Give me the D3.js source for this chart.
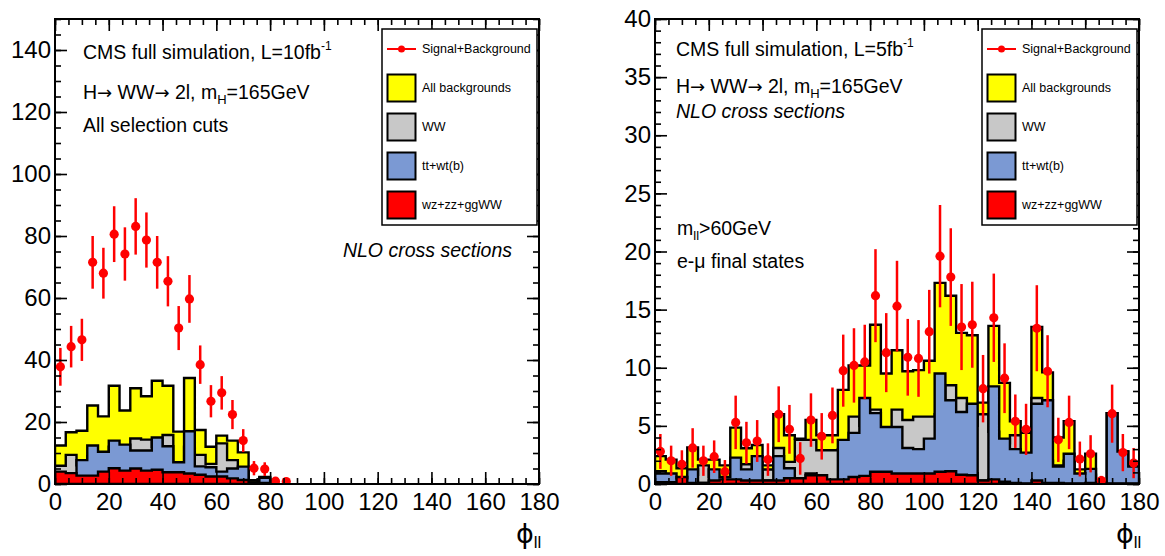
<!DOCTYPE html>
<html>
<head>
<meta charset="utf-8">
<script src="https://cdn.jsdelivr.net/npm/d3@7"></script>
<style>
body { margin: 0; background: #fff; }
svg { display: block; font-family: "Liberation Sans", Arial, Helvetica, sans-serif; }
</style>
</head>
<body>
<svg id="chart" width="1165" height="556"></svg>
<script>
// phi_ll histograms, 45 bins of 4 degrees
const binEdges = d3.range(0, 181, 4)

// left panel: L=10fb-1, all selection cuts
const leftTotal = [12.4,16.7,17.2,25.3,21.8,31.7,23.7,30.9,28.3,33.3,31.7,16.9,34.2,17.4,12.0,15.6,14.0,10.2,1.2,2.3]
const leftWW    = [5.9,9.4,6.0,9.0,8.0,12.0,8.0,14.7,14.3,12.0,15.8,5.0,12.0,9.4,6.5,13.1,7.7,5.0,0.5,1.0]
const leftTop   = [3.5,3.0,7.7,12.4,10.4,14.0,12.7,10.8,10.8,15.0,12.2,7.0,17.0,5.7,5.4,4.0,5.0,5.6,0.5,2.0]
const leftOther = [4.0,3.5,2.7,2.7,4.0,5.1,4.3,5.0,4.3,4.6,3.8,3.8,3.4,3.0,2.4,2.4,1.8,1.3,0.2,0.3]
const leftSig    = [37.8,44.3,46.5,71.5,68.0,80.6,74.2,83.1,78.7,71.5,65.4,50.3,59.7,38.5,26.7,29.4,22.4,14.0,5.1,4.8,0.9,0.8]
const leftSigErr = [6.1,6.7,6.8,8.5,8.2,9.0,8.6,9.1,8.9,8.5,8.1,7.1,7.7,6.2,5.2,5.4,4.7,3.7,2.3,2.2,0,0]

// right panel: L=5fb-1, m_ll>60GeV, e-mu
const rightTotal = [2.4,2.1,1.35,3.15,2.1,2.1,1.6,4.85,3.07,3.35,1.6,6.0,4.2,3.9,5.5,4.2,4.2,8.1,10.2,10.2,13.7,9.5,11.5,9.7,9.8,10.6,17.3,16.2,13.0,12.8,7.0,13.6,8.7,5.4,4.4,13.5,9.6,4.0,5.4,1.26,2.6,0.15,6.1,2.8,1.5]
const rightWW    = [1.1,0.6,0.3,0.8,1.6,0.6,0.5,1.5,1.7,0.8,1.25,3.1,1.9,3.8,3.8,2.9,2.9,3.0,5.8,5.0,6.4,4.0,6.4,5.5,5.8,5.8,6.0,8.5,7.4,5.0,6.0,4.5,3.5,4.2,1.5,7.4,2.0,1.6,2.0,0.2,0.8,0,0,0,0]
const rightTop   = [0.9,0.9,0.5,1.26,0.1,1.26,0.6,2.27,1.26,2.4,0.3,2.4,1.35,0.3,0.9,0.2,0.2,3.8,4.4,7.4,6.1,4.9,4.9,3.1,3.0,3.9,9.5,7.2,6.2,6.9,0.3,8.4,3.9,3.0,2.7,6.9,7.2,1.5,2.6,0.9,1.3,0.05,6.1,2.8,1.5]
const rightOther = [0.15,0.15,0.6,0.1,0.1,0.3,0.4,0.4,0.3,0.3,0.3,0.3,0.5,0.5,0.75,0.75,0.4,0.4,0.6,0.7,1.06,1.06,0.9,0.9,0.9,0.9,1.06,1.1,0.8,0.75,0.3,0.4,0.2,0.1,0.05,0.3,0.1,0.1,0.05,0.05,0.1,0.1,0.05,0.05,0.05]
const rightSig    = [2.8,2.0,1.7,3.1,2.0,2.35,1.06,5.3,3.55,3.7,2.1,6.0,4.7,2.2,5.5,4.1,5.9,9.75,10.2,10.5,16.2,11.3,15.3,10.9,10.8,13.1,19.6,17.8,13.5,13.7,8.2,14.3,9.1,5.4,4.7,13.4,9.7,3.8,5.3,2.15,2.6,0.3,6.05,2.7,1.8]
const rightSigErr = [1.5,1.3,1.2,1.7,1.3,1.4,1.0,2.3,1.8,1.8,1.4,2.4,2.1,1.4,2.3,2.0,2.4,3.1,3.2,3.2,4.0,3.4,3.9,3.3,3.3,3.6,4.4,4.2,3.7,3.7,2.9,3.8,3.0,2.3,2.2,3.7,3.1,1.9,2.3,1.5,1.6,0.4,2.5,1.6,1.3]

const xTicks = [0,20,40,60,80,100,120,140,160,180]
const legendLabels = ['Signal+Background','All backgrounds','WW','tt+wt(b)','wz+zz+ggWW']
const colors = { total: '#ffff00', ww: '#c8c8c8', top: '#7b99d3', other: '#ff0000', sig: '#ff0000' }

const svg = d3.select('#chart')

const drawPanel = (cfg) => {

    const x = d3.scaleLinear().domain([0, 180]).range([cfg.x0, cfg.x1])
    const y = d3.scaleLinear().domain([0, cfg.ymax]).range([484, 19])

    const g = svg.append('g')

    const clipId = 'clip' + cfg.x0
    g.append('clipPath').attr('id', clipId)
        .append('rect')
        .attr('x', cfg.x0).attr('y', 19)
        .attr('width', cfg.x1 - cfg.x0).attr('height', 465)

    const plot = g.append('g').attr('clip-path', `url(#${clipId})`)

    // step outline of a histogram, closed down to zero
    const stepPath = (vals) => {
        const pts = [[x(0), y(0)]]
        vals.forEach((v, i) => {
            pts.push([x(binEdges[i]), y(v)])
            pts.push([x(binEdges[i + 1]), y(v)])
        })
        pts.push([x(binEdges[vals.length]), y(0)])
        return d3.line()(pts) + 'Z'
    }

    const hists = [
        [cfg.total, colors.total],
        [cfg.ww, colors.ww],
        [cfg.top, colors.top],
        [cfg.other, colors.other]
    ]

    plot.selectAll('path.hist')
        .data(hists)
        .enter()
        .append('path')
        .attr('class', 'hist')
        .attr('d', d => stepPath(d[0]))
        .attr('fill', d => d[1])
        .attr('stroke', '#000')
        .attr('stroke-width', 2.4)
        .attr('stroke-linejoin', 'miter')

    const sig = cfg.sig.map((v, i) => ({ v, e: cfg.sigErr[i], c: (binEdges[i] + binEdges[i + 1]) / 2 }))

    plot.selectAll('line.err')
        .data(sig.filter(d => d.e > 0))
        .enter()
        .append('line')
        .attr('x1', d => x(d.c)).attr('x2', d => x(d.c))
        .attr('y1', d => y(d.v - d.e)).attr('y2', d => y(d.v + d.e))
        .attr('stroke', colors.sig)
        .attr('stroke-width', 2.5)

    plot.selectAll('circle.pt')
        .data(sig)
        .enter()
        .append('circle')
        .attr('cx', d => x(d.c)).attr('cy', d => y(d.v))
        .attr('r', 4.6)
        .attr('fill', colors.sig)

    // ticks on all four sides, pointing inward like ROOT
    const xMinor = d3.range(0, 181, 5)
    const yMinor = d3.range(0, cfg.ymax + 0.001, cfg.yMinor)
    const yMajor = d3.range(0, cfg.ymax + 0.001, cfg.yMajor)

    const addAxis = (axis, tx, ty, labels) => {
        const a = g.append('g')
            .attr('transform', `translate(${tx},${ty})`)
            .call(axis)
        a.select('.domain').remove()
        a.selectAll('line').attr('stroke', '#000').attr('stroke-width', 1.6)
        a.selectAll('text')
            .attr('fill', '#000')
            .style('font-size', '24px')
            .style('font-family', '"Liberation Sans", Arial, sans-serif')
        if (!labels) a.selectAll('text').remove()
        return a
    }

    addAxis(d3.axisBottom(x).tickValues(xTicks).tickSize(-12).tickPadding(9), 0, 484, true)
    addAxis(d3.axisBottom(x).tickValues(xMinor).tickSize(-6), 0, 484, false)
    addAxis(d3.axisTop(x).tickValues(xTicks).tickSize(-12), 0, 19, false)
    addAxis(d3.axisTop(x).tickValues(xMinor).tickSize(-6), 0, 19, false)
    addAxis(d3.axisLeft(y).tickValues(yMajor).tickSize(-12).tickPadding(4), cfg.x0, 0, true)
    addAxis(d3.axisLeft(y).tickValues(yMinor).tickSize(-6), cfg.x0, 0, false)
    addAxis(d3.axisRight(y).tickValues(yMajor).tickSize(-12), cfg.x1, 0, false)
    addAxis(d3.axisRight(y).tickValues(yMinor).tickSize(-6), cfg.x1, 0, false)

    g.append('rect')
        .attr('x', cfg.x0).attr('y', 19)
        .attr('width', cfg.x1 - cfg.x0).attr('height', 465)
        .attr('fill', 'none')
        .attr('stroke', '#000')
        .attr('stroke-width', 2)

    // axis title phi_ll
    const xt = g.append('text')
        .attr('x', cfg.x1 - 23).attr('y', 543)
        .style('font-size', '27px')
    xt.append('tspan').style('font-family', '"DejaVu Sans", sans-serif').text('ϕ')
    xt.append('tspan').attr('dy', 5).style('font-size', '17px').text('ll')

    // legend
    const lx = cfg.x1 - 157, ly = 29
    const leg = g.append('g').attr('transform', `translate(${lx},${ly})`)
    leg.append('rect')
        .attr('width', 155).attr('height', 196)
        .attr('fill', '#fff').attr('stroke', '#000').attr('stroke-width', 1.5)

    leg.append('line')
        .attr('x1', 5).attr('x2', 34).attr('y1', 20).attr('y2', 20)
        .attr('stroke', colors.sig).attr('stroke-width', 2)
    leg.append('circle').attr('cx', 19.5).attr('cy', 20).attr('r', 3.5).attr('fill', colors.sig)

    const boxColors = [colors.total, colors.ww, colors.top, colors.other]
    leg.selectAll('rect.box')
        .data(boxColors)
        .enter()
        .append('rect')
        .attr('class', 'box')
        .attr('x', 5.5).attr('y', (d, i) => 45.5 + i * 39)
        .attr('width', 28).attr('height', 27)
        .attr('fill', d => d)
        .attr('stroke', '#000').attr('stroke-width', 2)

    leg.selectAll('text')
        .data(legendLabels)
        .enter()
        .append('text')
        .attr('x', 40)
        .attr('y', (d, i) => i === 0 ? 20 : 59 + (i - 1) * 39)
        .attr('dominant-baseline', 'central')
        .style('font-size', '12.5px')
        .text(d => d)

    // annotation text
    cfg.texts(g)
}

const lumiLines = (g, lumi, ys) => {
    const t1 = g.append('text').attr('x', ys.x).attr('y', ys.y1).style('font-size', '19.5px')
    t1.append('tspan').text('CMS full simulation, L=' + lumi + 'fb')
    t1.append('tspan').attr('dy', -9).style('font-size', '12px').text('-1')

    const arrow = t => t.append('tspan')
        .style('font-family', '"DejaVu Sans", sans-serif')
        .style('font-size', '18px')
        .text('→')

    const t2 = g.append('text').attr('x', ys.x).attr('y', ys.y2).style('font-size', '19.5px')
    t2.append('tspan').text('H')
    arrow(t2)
    t2.append('tspan').text(' WW')
    arrow(t2)
    t2.append('tspan').text(' 2l, m')
    t2.append('tspan').attr('dy', 5).style('font-size', '13px').text('H')
    t2.append('tspan').attr('dy', -5).text('=165GeV')
}

drawPanel({
    x0: 55, x1: 539, ymax: 150, yMajor: 20, yMinor: 5,
    total: leftTotal, ww: leftWW, top: leftTop, other: leftOther,
    sig: leftSig, sigErr: leftSigErr,
    texts: g => {
        lumiLines(g, '10', { x: 83, y1: 59, y2: 99 })
        g.append('text').attr('x', 83).attr('y', 132).style('font-size', '19.5px').text('All selection cuts')
        g.append('text').attr('x', 512).attr('y', 257)
            .attr('text-anchor', 'end')
            .style('font-size', '19.5px').style('font-style', 'italic')
            .text('NLO cross sections')
    }
})

drawPanel({
    x0: 655, x1: 1139, ymax: 40, yMajor: 5, yMinor: 1,
    total: rightTotal, ww: rightWW, top: rightTop, other: rightOther,
    sig: rightSig, sigErr: rightSigErr,
    texts: g => {
        lumiLines(g, '5', { x: 676, y1: 56, y2: 93 })
        g.append('text').attr('x', 676).attr('y', 118)
            .style('font-size', '19.5px').style('font-style', 'italic')
            .text('NLO cross sections')
        const m = g.append('text').attr('x', 677).attr('y', 235).style('font-size', '19.5px')
        m.append('tspan').text('m')
        m.append('tspan').attr('dy', 5).style('font-size', '13px').text('ll')
        m.append('tspan').attr('dy', -5).text('>60GeV')
        g.append('text').attr('x', 677).attr('y', 268).style('font-size', '19.5px').text('e-μ final states')
    }
})
</script>
</body>
</html>
